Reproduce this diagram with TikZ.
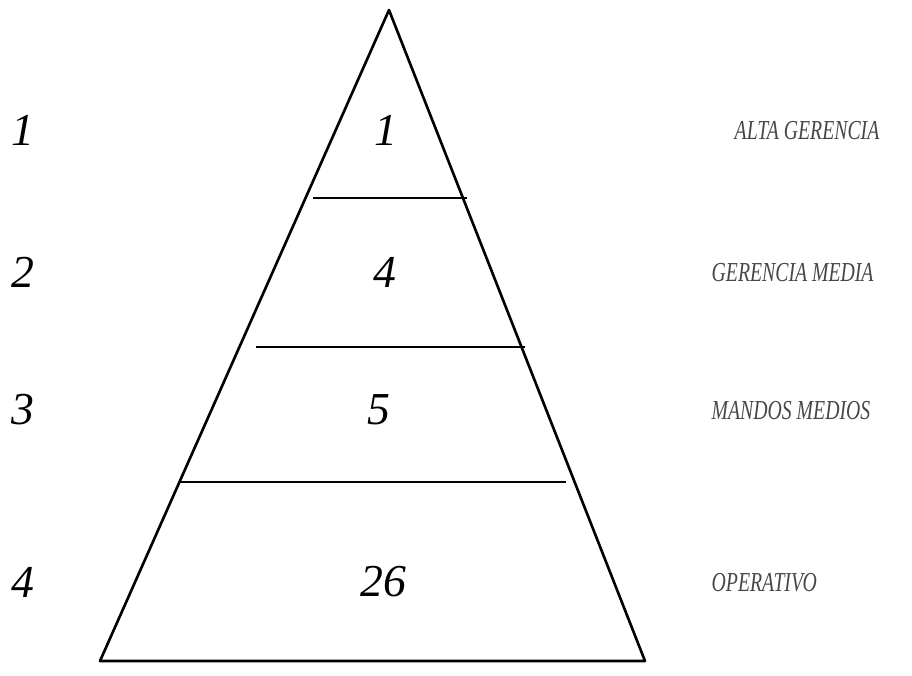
\documentclass[tikz,border=0pt]{standalone}
\usepackage{fontspec}
\setmainfont{Liberation Serif}
\newfontfamily\tagfont{Liberation Serif}[FakeStretch=0.72]
\usetikzlibrary{positioning}

\begin{document}
\begin{tikzpicture}[
  x=0.01cm, y=-0.01cm,
  edge/.style={line width=0.75pt, line join=round},
  lvl/.style={font=\fontsize{13}{15}\selectfont\itshape, inner sep=0pt},
  cnt/.style={font=\fontsize{13}{15}\selectfont\itshape, inner sep=0pt},
  tag/.style={font=\tagfont\fontsize{7.8}{9}\selectfont\itshape, text=black!72, inner sep=0pt, anchor=west}
]
\useasboundingbox (0,0) rectangle (912,675);

% piramide
\coordinate (apex) at (389,10);
\coordinate (bl) at (100,661);
\coordinate (br) at (645,661);
\draw[edge] (apex) -- (br) -- (bl) -- cycle;

% divisiones
\coordinate (d1l) at (313,198);
\coordinate (d1r) at (467,198);
\coordinate (d2l) at (256,347);
\coordinate (d2r) at (525,347);
\coordinate (d3l) at (180,482);
\coordinate (d3r) at (566,482);
\draw[edge] (d1l) -- (d1r);
\draw[edge] (d2l) -- (d2r);
\draw[edge] (d3l) -- (d3r);

% niveles
\node[lvl] (lvl1) at (23,130) {1};
\node[lvl] (lvl2) at (23,272) {2};
\node[lvl] (lvl3) at (23,410) {3};
\node[lvl] (lvl4) at (23,582) {4};

% cantidades
\node[cnt] (cnt1) at (386,130) {1};
\node[cnt] (cnt2) at (385,272) {4};
\node[cnt] (cnt3) at (379,410) {5};
\node[cnt] (cnt4) at (383,582) {26};

% cargos
\node[tag] (tag1) at (734,131) {ALTA GERENCIA};
\node[tag] (tag2) at (711,273) {GERENCIA MEDIA};
\node[tag] (tag3) at (711,411) {MANDOS MEDIOS};
\node[tag] (tag4) at (711,583) {OPERATIVO};
\end{tikzpicture}
\end{document}
